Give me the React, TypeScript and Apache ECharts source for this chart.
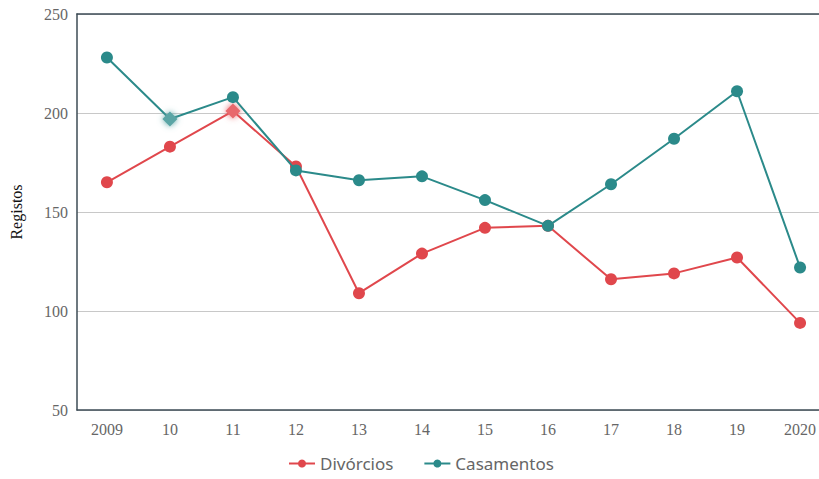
import React, { useEffect, useRef } from "react";
import * as echarts from "echarts";

const categories = ["2009", "10", "11", "12", "13", "14", "15", "16", "17", "18", "19", "2020"];
const divorcios = [165, 183, 201, 173, 109, 129, 142, 143, 116, 119, 127, 94];
const casamentos = [228, 197, 208, 171, 166, 168, 156, 143, 164, 187, 211, 122];
const yTicks = [50, 100, 150, 200, 250];

const RED = "#e0474c";
const TEAL = "#2b8a8a";
const AXIS = "#3d4b55";

export default function App() {
  const ref = useRef<HTMLDivElement>(null);
  useEffect(() => {
    const chart = echarts.init(ref.current!, null, { renderer: "svg" });
    const mk = (vals: number[], hiIdx: number, hiColor: string) =>
      vals.map((v, i) =>
        i === hiIdx
          ? { value: [i, v], symbol: "diamond", symbolSize: 15, itemStyle: { color: hiColor, shadowBlur: 6, shadowColor: hiColor } }
          : [i, v]
      );
    const idx = categories.map((_, i) => i);
    chart.setOption({
      animation: false,
      backgroundColor: "#ffffff",
      grid: { left: 75, top: 14, right: 0, height: 396, show: false },
      legend: {
        bottom: 2,
        left: 283,
        itemWidth: 26,
        itemHeight: 10,
        itemGap: 30,
        textStyle: { fontFamily: "Liberation Sans Narrow, Noto Sans, sans-serif", fontSize: 17, color: "#666" },
        data: ["Divórcios", "Casamentos"],
      },
      xAxis: [
        {
          type: "value",
          min: -0.475,
          max: 11.297,
          axisLine: { show: true, onZero: false, lineStyle: { color: AXIS, width: 1.5 } },
          axisTick: { show: false },
          splitLine: { show: false },
          axisLabel: {
            customValues: idx,
            formatter: (v: number) => categories[Math.round(v)] ?? "",
            fontFamily: "Liberation Serif, serif",
            fontSize: 16,
            color: "#666",
            margin: 11,
          },
        },
        {
          type: "value",
          position: "top",
          min: -0.475,
          max: 11.297,
          axisLine: { show: true, onZero: false, lineStyle: { color: AXIS, width: 1.5 } },
          axisTick: { show: false },
          splitLine: { show: false },
          axisLabel: { show: false },
        },
      ],
      yAxis: {
        type: "value",
        min: yTicks[0],
        max: yTicks[yTicks.length - 1],
        interval: 50,
        name: "Registos",
        nameLocation: "middle",
        nameGap: 53,
        nameTextStyle: { fontFamily: "Liberation Serif, serif", fontSize: 16, color: "#111" },
        axisLine: { show: true, onZero: false, lineStyle: { color: AXIS, width: 1.5 } },
        axisTick: { show: false },
        axisLabel: { fontFamily: "Liberation Serif, serif", fontSize: 16, color: "#666", margin: 9 },
        splitLine: { lineStyle: { color: "#c8c8c8", width: 1 } },
      },
      series: [
        {
          name: "Divórcios",
          type: "line",
          data: mk(divorcios, 2, "#e8686c"),
          symbol: "circle",
          symbolSize: 12,
          lineStyle: { color: RED, width: 2 },
          itemStyle: { color: RED },
          z: 2,
        },
        {
          name: "Casamentos",
          type: "line",
          data: mk(casamentos, 1, "#5aa5a5"),
          symbol: "circle",
          symbolSize: 12,
          lineStyle: { color: TEAL, width: 2 },
          itemStyle: { color: TEAL },
          z: 3,
        },
      ],
    });
    return () => chart.dispose();
  }, []);
  return <div ref={ref} style={{ width: 819, height: 479, position: "absolute", left: 0, top: 0 }} />;
}
